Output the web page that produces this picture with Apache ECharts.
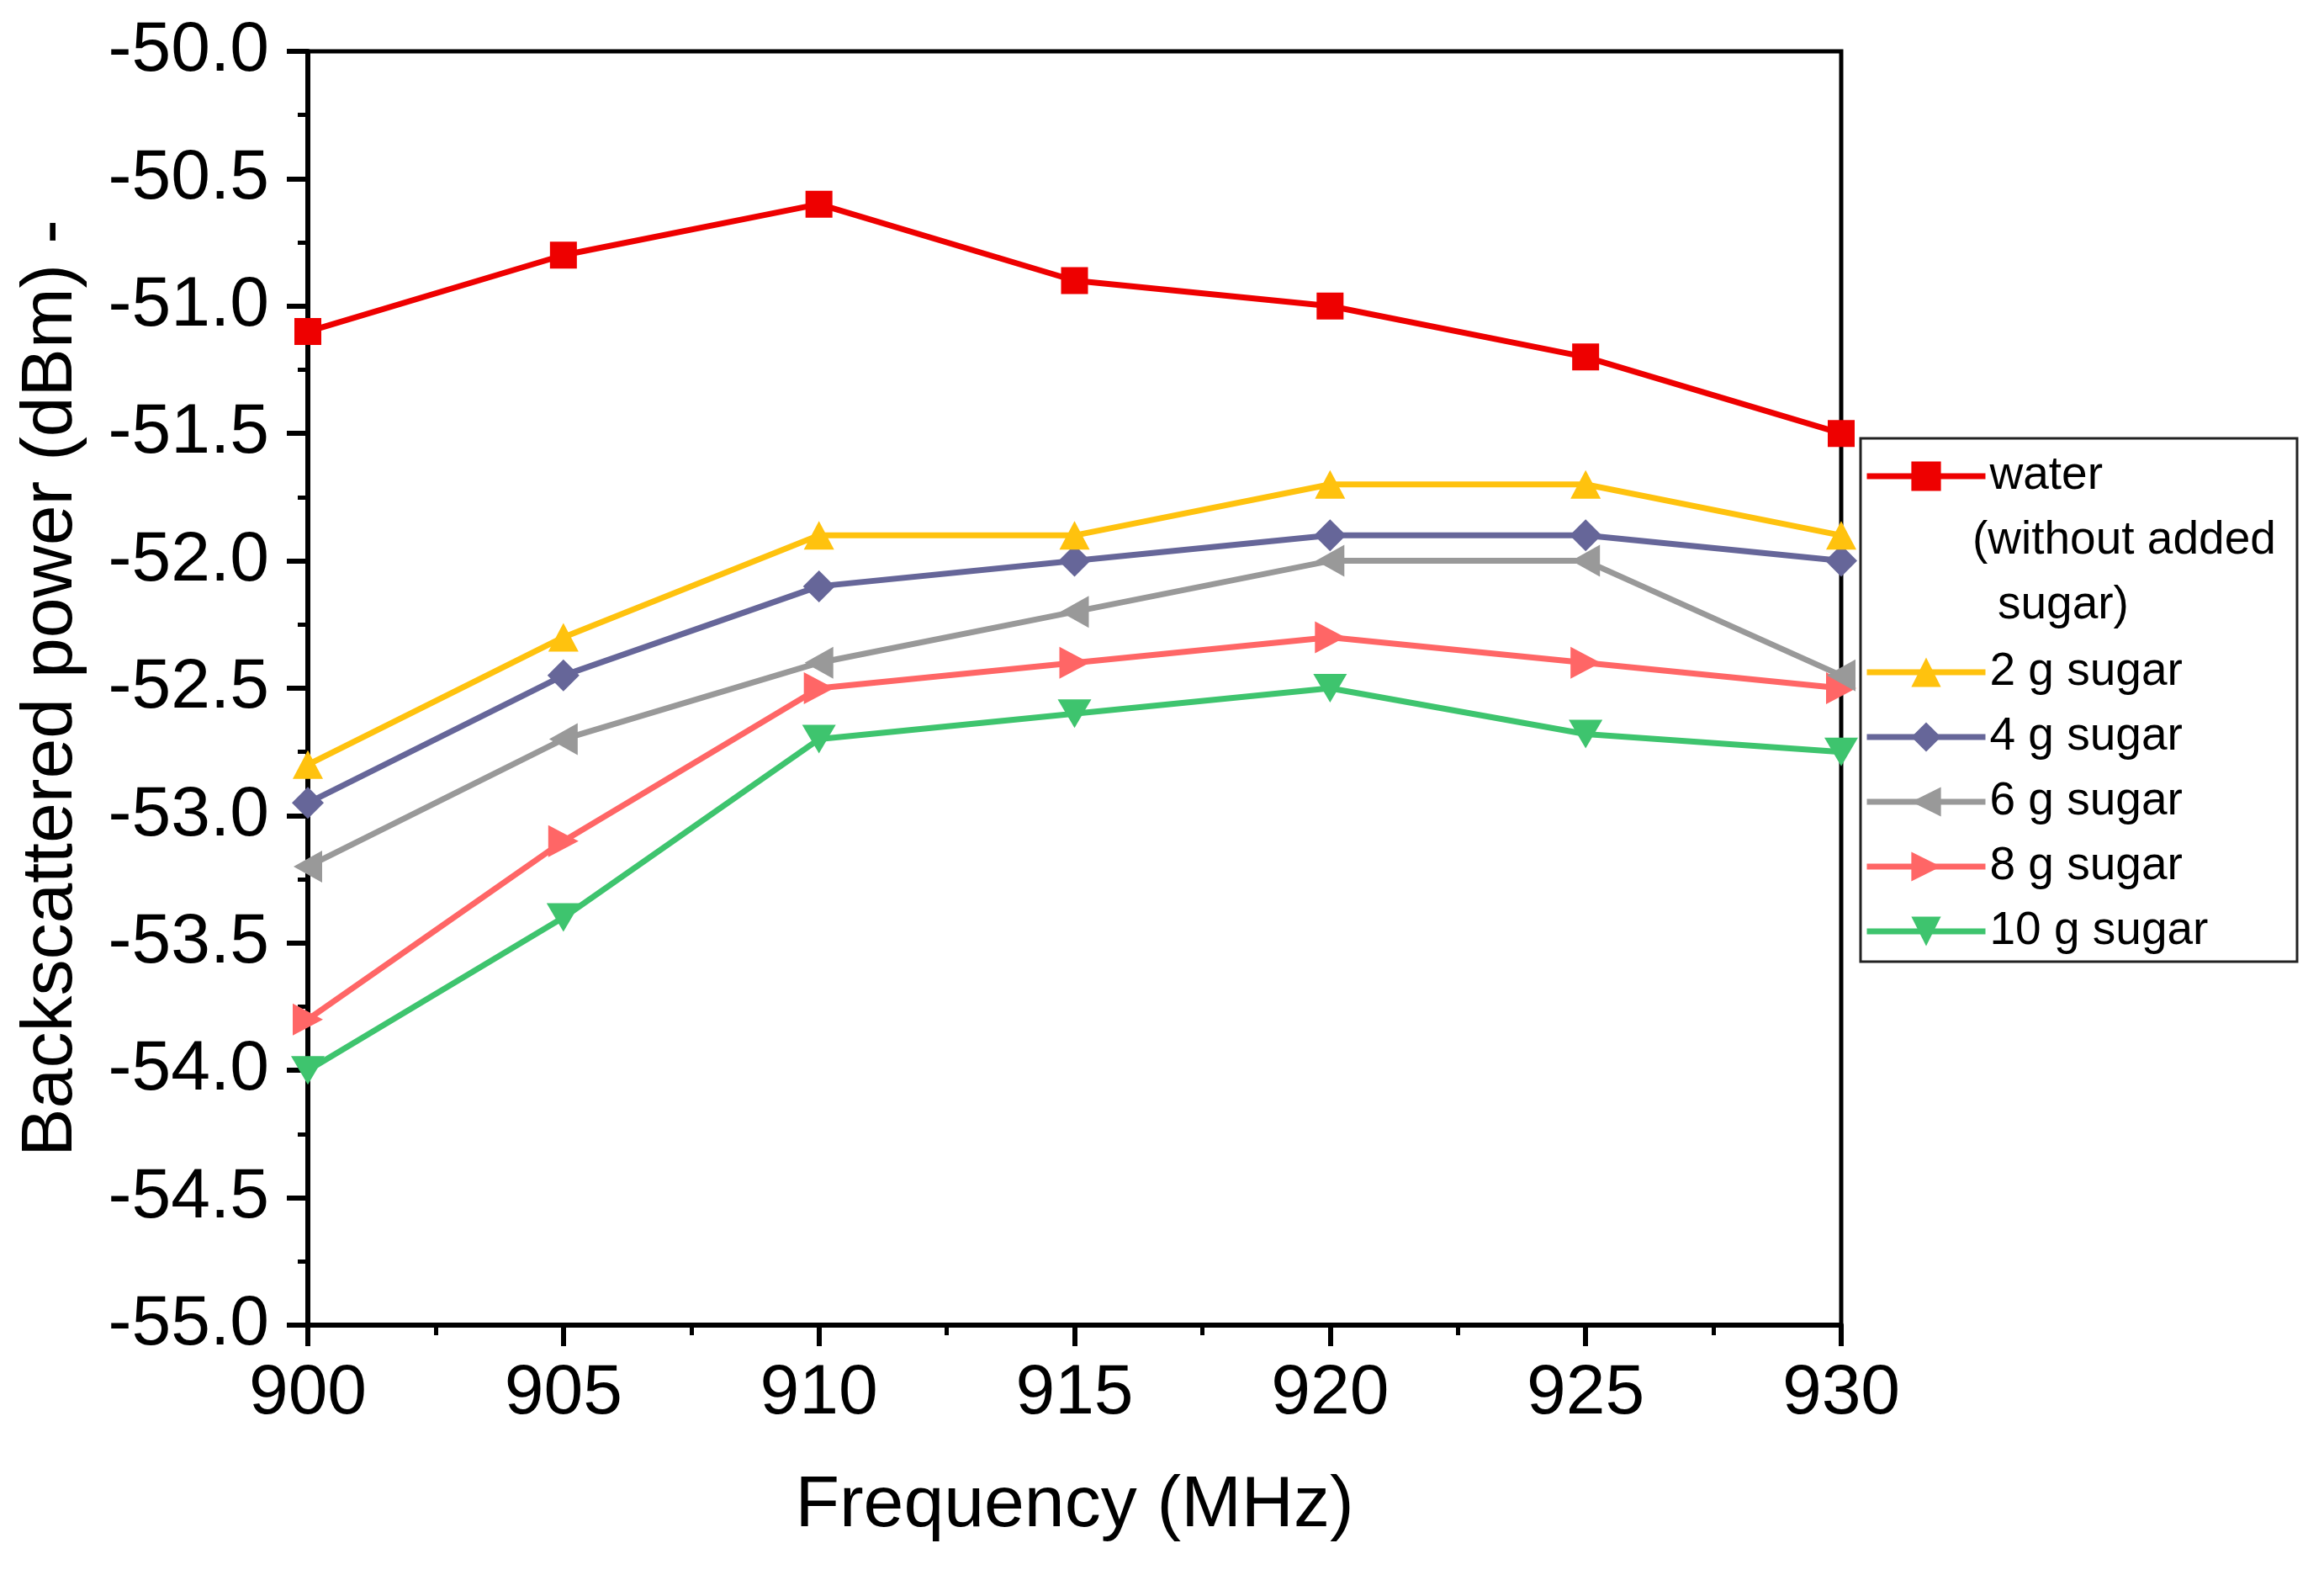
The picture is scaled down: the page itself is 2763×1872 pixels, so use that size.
<!DOCTYPE html>
<html><head><meta charset="utf-8">
<script src="https://cdn.jsdelivr.net/npm/echarts@6.0.0/dist/echarts.min.js"></script>
<style>html,body{margin:0;padding:0;background:#fff}#c{width:2763px;height:1872px}</style>
</head><body><div id="c"></div>
<script>
const frequencies = [900, 905, 910, 915, 920, 925, 930];
const water    = [-51.1, -50.8, -50.6, -50.9, -51.0, -51.2, -51.5];
const sugar2g  = [-52.8, -52.3, -51.9, -51.9, -51.7, -51.7, -51.9];
const sugar4g  = [-52.95, -52.45, -52.1, -52.0, -51.9, -51.9, -52.0];
const sugar6g  = [-53.2, -52.7, -52.4, -52.2, -52.0, -52.0, -52.45];
const sugar8g  = [-53.8, -53.1, -52.5, -52.4, -52.3, -52.4, -52.5];
const sugar10g = [-54.0, -53.4, -52.7, -52.6, -52.5, -52.68, -52.75];
const seriesNames = ['water', '2 g sugar', '4 g sugar', '6 g sugar', '8 g sugar', '10 g sugar'];
const waterNoteLines = ['(without added', 'sugar)'];
const xTitle = 'Frequency (MHz)';
const yTitle = 'Backscattered power (dBm) -';

const FONT = 'Liberation Sans, Arial, sans-serif';
const seriesValues = [water, sugar2g, sugar4g, sugar6g, sugar8g, sugar10g];
const colors = ['#ee0000', '#ffc20e', '#666699', '#999999', '#ff6666', '#3ec46e'];
const symbols = ['rect', 'triangle', 'diamond',
  'path://M0,5 L10,0 L10,10 Z', 'path://M0,0 L10,5 L0,10 Z', 'path://M0,0 L10,0 L5,10 Z'];
const symbolSizes = [32, [36, 34], 38, [34, 38], [36, 38], [40, 34]];

const chart = echarts.init(document.getElementById('c'), null, {renderer: 'canvas'});

const series = seriesNames.map((name, i) => ({
  name: name,
  type: 'line',
  data: frequencies.map((f, j) => [f, seriesValues[i][j]]),
  symbol: symbols[i],
  symbolSize: symbolSizes[i],
  showAllSymbol: true,
  clip: false,
  z: 10 - i,
  lineStyle: {color: colors[i], width: 7},
  itemStyle: {color: colors[i], borderWidth: 0},
  emphasis: {disabled: true},
  animation: false
}));

const legendCommon = {
  orient: 'vertical',
  left: 2216,
  padding: 0,
  itemWidth: 141,
  itemHeight: 44,
  itemGap: 21,
  selectedMode: false,
  lineStyle: {width: 7},
  textStyle: {fontSize: 55, fontFamily: FONT, color: '#000', lineHeight: 56}
};

const option = {
  backgroundColor: '#fff',
  animation: false,
  grid: {left: 366, right: 574, top: 61, bottom: 297, show: true, borderColor: '#000', borderWidth: 5,
         backgroundColor: 'transparent', outerBoundsMode: 'none', containLabel: false},
  xAxis: {
    type: 'value', min: 900, max: 930, interval: 5,
    name: xTitle, nameLocation: 'middle', nameGap: 172,
    nameTextStyle: {fontSize: 86, fontFamily: FONT, color: '#000'},
    axisLine: {show: true, lineStyle: {color: '#000', width: 6}},
    axisTick: {show: true, inside: false, length: 25, lineStyle: {color: '#000', width: 6}},
    minorTick: {show: true, splitNumber: 2, length: 12, lineStyle: {color: '#000', width: 5}},
    axisLabel: {fontSize: 84, fontFamily: FONT, color: '#000', margin: 40},
    splitLine: {show: false}
  },
  yAxis: {
    type: 'value', min: -55, max: -50, interval: 0.5,
    name: yTitle, nameLocation: 'middle', nameGap: 262, nameRotate: 90,
    nameTextStyle: {fontSize: 86, fontFamily: FONT, color: '#000'},
    axisLine: {show: true, lineStyle: {color: '#000', width: 6}},
    axisTick: {show: true, inside: false, length: 25, lineStyle: {color: '#000', width: 6}},
    minorTick: {show: true, splitNumber: 2, length: 12, lineStyle: {color: '#000', width: 5}},
    axisLabel: {fontSize: 84, fontFamily: FONT, color: '#000', margin: 46,
                formatter: v => v.toFixed(1)},
    splitLine: {show: false}
  },
  legend: [
    Object.assign({}, legendCommon, {data: [seriesNames[0]], top: 538}),
    Object.assign({}, legendCommon, {data: seriesNames.slice(1), top: 771})
  ],
  graphic: [
    {type: 'rect', shape: {x: 2212, y: 521, width: 519, height: 622},
     style: {fill: 'none', stroke: '#222', lineWidth: 3}, z: 1},
    {type: 'text', x: 2345, y: 643,
     style: {text: waterNoteLines[0], fontSize: 55, fontFamily: FONT, fill: '#000', verticalAlign: 'middle', align: 'left'}},
    {type: 'text', x: 2375, y: 720,
     style: {text: waterNoteLines[1], fontSize: 55, fontFamily: FONT, fill: '#000', verticalAlign: 'middle', align: 'left'}}
  ],
  series: series
};
chart.setOption(option);
</script></body></html>
